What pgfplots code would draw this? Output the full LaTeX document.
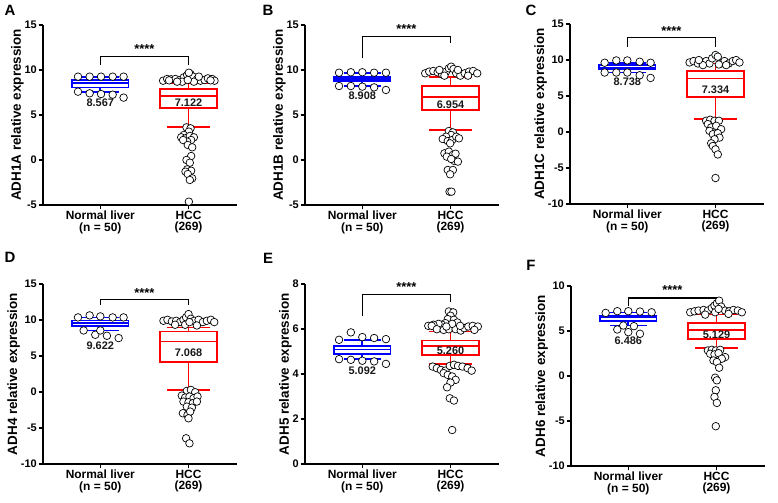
\documentclass[border=0pt]{standalone}
\usepackage{fontspec}
\setmainfont{Liberation Sans}
\usepackage{pgfplots}
\pgfplotsset{compat=1.18}

\newcommand{\fs}[1]{\fontsize{#1}{#1}\selectfont}

\pgfplotsset{
  panel/.style={
    scale only axis, width=194bp, height=180bp,
    xmin=0.35, xmax=2.55, anchor=south west, clip=false,
    axis lines=left, axis line style={-, line width=1.5pt},
    tick align=outside, major tick length=4.5pt,
    tick style={line width=1.3pt, black},
    xtick={1,2},
    xticklabels={{Normal liver\\(n = 50)},{HCC\\(269)}},
    xticklabel style={align=center, font=\fs{12}\bfseries, inner sep=1pt},
    yticklabel style={font=\fs{11}\bfseries, inner sep=1.5pt},
    ylabel style={font=\fs{13.5}\bfseries, yshift=-4pt},
  },
  bl/.style={line width=1.7pt, mark=none, line cap=rect, line join=miter},
  pts/.style={only marks, mark=*, mark size=3.8pt,
    mark options={fill=white, draw=black, line width=0.7pt}},
  brk/.style={black, line width=1.1pt, mark=none},
}
% box at x=1 (blue): lower whisker, lower quartile, median, upper quartile, upper whisker
\newcommand{\normbox}[5]{%
  \addplot[blue, bl] coordinates {(0.68,#2)(1.32,#2)(1.32,#4)(0.68,#4)(0.68,#2)};
  \addplot[blue, bl] coordinates {(0.68,#3)(1.32,#3)};
  \addplot[blue, bl] coordinates {(1,#4)(1,#5)};
  \addplot[blue, bl] coordinates {(1,#2)(1,#1)};
  \addplot[blue, bl] coordinates {(0.80,#5)(1.20,#5)};
  \addplot[blue, bl] coordinates {(0.80,#1)(1.20,#1)};
}
% box at x=2 (red)
\newcommand{\hccbox}[5]{%
  \addplot[red, bl] coordinates {(1.68,#2)(2.32,#2)(2.32,#4)(1.68,#4)(1.68,#2)};
  \addplot[red, bl] coordinates {(1.68,#3)(2.32,#3)};
  \addplot[red, bl] coordinates {(2,#4)(2,#5)};
  \addplot[red, bl] coordinates {(2,#2)(2,#1)};
  \addplot[red, bl] coordinates {(1.77,#5)(2.23,#5)};
  \addplot[red, bl] coordinates {(1.77,#1)(2.23,#1)};
}
\newcommand{\val}{\fs{11}\bfseries}
\newcommand{\stars}{\fs{13}\bfseries}

\begin{document}
\begin{tikzpicture}
\useasboundingbox (0,0) rectangle (778bp,503bp);

% ---------- A ----------
\begin{axis}[panel, at={(43bp,298bp)}, ymin=-5, ymax=15,
  ytick={-5,0,5,10,15}, yticklabels={-5,0,5,10,15},
  ylabel={ADH1A relative expression}]
\normbox{7.56}{8.07}{8.567}{8.92}{9.22}
\hccbox{3.70}{5.78}{7.122}{7.90}{8.56}
\addplot[pts] coordinates {(0.747,9.26)(0.879,9.26)(1.008,9.26)(1.14,9.26)(1.264,9.26)
  (0.747,7.59)(0.879,7.41)(1.008,7.33)(1.14,7.26)(1.264,6.93)};
\addplot[pts] coordinates {(1.712,8.81)(1.758,9.00)(1.803,8.96)(1.852,9.00)(1.902,8.89)
  (1.947,9.19)(1.985,9.44)(2.023,9.55)(2.053,9.26)(2.098,9.00)(2.136,8.81)(2.182,8.89)
  (2.22,9.07)(2.269,9.00)(2.295,8.81)(1.928,8.70)(2.061,8.70)(1.992,8.89)(2.117,9.26)
  (1.871,8.70)(2.004,9.70)(1.78,8.85)(2.25,8.85)
  (1.977,3.63)(2.023,3.52)(2.004,3.15)(1.947,2.78)(1.917,2.52)(1.966,2.41)(2.015,2.67)
  (2.061,2.52)(2.03,2.22)(1.985,2.04)(1.939,2.22)(1.992,1.67)(2.042,1.41)(2.03,0.44)
  (1.977,0.0)(2.015,-0.30)(1.985,-1.04)(2.03,-1.19)(1.966,-1.30)(1.992,-1.56)
  (2.042,-2.04)(2.015,-2.22)(2.004,-4.63)};
\addplot[brk] coordinates {(1,10.56)(1,11.5)(2,11.5)(2,10.56)};
\node[font=\stars] at (axis cs:1.5,12.3) {****};
\node[font=\val, text=black!90] at (axis cs:1,6.33) {8.567};
\node[font=\val, text=black!90] at (axis cs:2,6.40) {7.122};
\end{axis}

% ---------- B ----------
\begin{axis}[panel, at={(305bp,298bp)}, ymin=-5, ymax=15,
  ytick={-5,0,5,10,15}, yticklabels={-5,0,5,10,15},
  ylabel={ADH1B relative expression}]
\normbox{8.22}{8.78}{8.98}{9.26}{9.63}
\hccbox{3.33}{5.56}{7.0}{8.26}{9.26}
\addplot[pts] coordinates {(0.736,9.70)(0.870,9.75)(1.0,9.75)(1.134,9.70)(1.268,9.70)
  (0.736,8.22)(0.870,8.22)(1.0,8.15)(1.134,8.07)(1.268,7.78)};
\addplot[pts] coordinates {(1.713,9.63)(1.759,9.82)(1.805,9.89)(1.854,9.74)(1.904,9.52)
  (1.95,9.82)(1.981,10.19)(2.008,10.37)(2.034,10.11)(2.065,9.63)(2.111,9.37)(2.161,9.63)
  (2.211,9.82)(2.257,9.89)(2.303,9.63)(1.931,9.37)(2.084,10.0)(2.199,9.37)(1.874,10.0)
  (1.981,3.22)(2.027,3.07)(2.008,2.78)(1.95,2.59)(1.912,2.33)(1.969,2.11)(2.019,2.22)
  (2.065,2.59)(2.096,2.41)(1.996,1.85)(1.931,0.74)(1.981,0.93)(2.027,0.56)(2.057,0.70)
  (1.958,0.37)(2.046,-0.11)(2.084,-0.18)(2.008,0.11)(1.969,-1.11)(2.027,-1.11)
  (1.996,-1.59)(1.989,-3.52)(2.011,-3.52)};
\addplot[brk] coordinates {(1,11.3)(1,13.7)(2,13.7)(2,13.0)};
\node[font=\stars] at (axis cs:1.5,14.5) {****};
\node[font=\val, text=black!90] at (axis cs:1,7.15) {8.908};
\node[font=\val, text=black!90] at (axis cs:2,6.19) {6.954};
\end{axis}

% ---------- C ----------
\begin{axis}[panel, at={(570bp,299bp)}, ymin=-10, ymax=15,
  ytick={-10,-5,0,5,10,15}, yticklabels={-10,-5,0,5,10,15},
  ylabel={ADH1C relative expression}]
\normbox{8.26}{8.68}{8.90}{9.29}{9.62}
\hccbox{1.80}{4.84}{7.42}{8.45}{9.52}
\addplot[pts] coordinates {(0.743,9.62)(0.875,9.94)(1.0,9.94)(1.14,9.76)(1.264,9.62)
  (0.743,8.26)(0.875,8.26)(1.0,8.26)(1.14,7.88)(1.264,7.51)};
\addplot[pts] coordinates {(1.706,9.66)(1.751,9.85)(1.80,9.52)(1.849,9.66)(1.894,9.85)
  (1.932,9.52)(1.962,10.23)(2.0,10.69)(2.026,10.46)(2.064,9.52)(2.102,9.85)(2.151,9.52)
  (2.196,9.85)(2.234,9.99)(2.272,9.66)(1.857,9.29)(2.121,9.29)(2.038,9.38)(1.811,9.99)
  (1.894,1.56)(1.94,1.70)(1.989,1.56)(2.038,1.56)(1.913,1.10)(1.951,0.63)(2.008,0.86)
  (2.064,0.39)(1.932,0.16)(1.97,-0.31)(2.026,-0.17)(2.045,-0.78)(1.989,-1.01)
  (1.951,-1.57)(1.97,-1.95)(2.0,-2.41)(2.026,-3.12)(2.0,-6.39)};
\addplot[brk] coordinates {(1,11.86)(1,13.13)(2,13.13)(2,11.86)};
\node[font=\stars] at (axis cs:1.5,14.0) {****};
\node[font=\val, text=black!90] at (axis cs:1,7.04) {8.738};
\node[font=\val, text=black!90] at (axis cs:2,5.92) {7.334};
\end{axis}

% ---------- D ----------
\begin{axis}[panel, at={(43bp,39bp)}, ymin=-10, ymax=15,
  ytick={-10,-5,0,5,10,15}, yticklabels={-10,-5,0,5,10,15},
  ylabel={ADH4 relative expression}]
\normbox{8.55}{9.20}{9.622}{9.94}{10.36}
\hccbox{0.29}{4.14}{7.02}{8.41}{8.97}
\addplot[pts] coordinates {(0.747,10.36)(0.879,10.64)(1.0,10.50)(1.14,10.36)(1.264,10.36)
  (0.811,8.55)(0.943,7.95)(1.0,8.55)(1.075,7.81)(1.208,7.49)};
\addplot[pts] coordinates {(1.716,9.89)(1.761,10.03)(1.811,9.80)(1.86,9.89)(1.905,9.71)
  (1.943,10.03)(1.973,10.36)(2.0,10.82)(2.027,10.17)(2.064,9.89)(2.114,10.03)(2.163,9.71)
  (2.208,9.89)(2.254,10.03)(2.292,9.71)(1.848,9.34)(1.962,9.34)(2.095,9.24)(2.011,9.71)
  (1.981,0.15)(2.027,0.29)(2.076,-0.03)(1.924,-0.50)(1.962,-0.77)(2.011,-0.63)
  (2.057,-0.87)(2.102,-0.63)(1.943,-1.33)(2.0,-1.42)(2.049,-1.56)(2.095,-1.33)
  (1.981,-2.03)(2.038,-2.17)(1.936,-2.95)(1.989,-3.19)(2.019,-2.72)(2.0,-3.65)
  (1.973,-6.43)(2.011,-7.13)};
\addplot[brk] coordinates {(1,12.12)(1,12.82)(2,12.82)(2,12.12)};
\node[font=\stars] at (axis cs:1.5,13.8) {****};
\node[font=\val, text=black!90] at (axis cs:1,6.47) {9.622};
\node[font=\val, text=black!90] at (axis cs:2,5.39) {7.068};
\end{axis}

% ---------- E ----------
\begin{axis}[panel, at={(305bp,39bp)}, ymin=0, ymax=8,
  ytick={0,2,4,6,8}, yticklabels={0,2,4,6,8},
  ylabel={ADH5 relative expression}]
\normbox{4.68}{4.88}{5.092}{5.23}{5.52}
\hccbox{4.45}{4.85}{5.26}{5.49}{5.89}
\addplot[pts] coordinates {(0.736,5.52)(0.870,5.85)(1.0,5.64)(1.134,5.60)(1.268,5.55)
  (0.736,4.66)(0.870,4.63)(1.0,4.59)(1.134,4.56)(1.268,4.45)};
\addplot[pts] coordinates {(1.981,6.78)(2.031,6.74)(2.0,6.59)(1.969,6.44)(2.039,6.41)
  (2.078,6.29)(1.942,6.26)(1.903,6.19)(1.864,6.23)(1.806,6.19)(1.748,6.14)(1.787,6.14)
  (1.845,5.99)(1.922,5.96)(1.981,5.99)(2.058,5.99)(2.116,5.93)(2.155,6.04)(2.202,6.11)
  (2.252,6.14)(2.31,6.11)(2.271,5.96)(2.019,6.23)(2.109,6.14)(1.953,6.11)
  (1.798,4.33)(1.845,4.26)(1.891,4.18)(1.942,4.15)(1.992,4.36)(2.039,4.41)(2.085,4.36)
  (2.136,4.33)(2.194,4.26)(2.24,4.15)(1.922,4.04)(1.969,3.96)(2.019,3.89)(2.058,3.74)
  (2.0,3.62)(1.961,3.41)(1.992,2.92)(2.039,2.82)(2.019,1.51)};
\addplot[brk] coordinates {(1,6.56)(1,7.53)(2,7.53)(2,7.18)};
\node[font=\stars] at (axis cs:1.5,7.85) {****};
\node[font=\val, text=black!90] at (axis cs:1,4.16) {5.092};
\node[font=\val, text=black!90] at (axis cs:2,5.05) {5.260};
\end{axis}

% ---------- F ----------
\begin{axis}[panel, at={(571bp,37bp)}, ymin=-10, ymax=10,
  ytick={-10,-5,0,5,10}, yticklabels={-10,-5,0,5,10},
  ylabel={ADH6 relative expression}]
\normbox{5.61}{6.09}{6.486}{6.64}{7.05}
\hccbox{3.13}{4.13}{5.129}{5.86}{6.82}
\addplot[pts] coordinates {(0.743,7.01)(0.875,7.20)(1.0,7.20)(1.132,7.16)(1.264,7.08)
  (0.875,5.17)(0.943,5.61)(1.064,5.54)(1.0,4.87)(1.132,4.69)};
\addplot[pts] coordinates {(1.702,7.08)(1.751,7.19)(1.796,7.27)(1.853,7.34)(1.902,7.27)
  (1.947,7.56)(1.977,7.82)(2.004,8.08)(2.03,8.37)(2.053,7.71)(2.098,7.27)(2.143,7.19)
  (2.192,7.34)(2.242,7.27)(2.287,7.08)(1.872,6.82)(1.985,7.08)(2.136,6.90)(2.023,7.45)
  (1.902,2.84)(1.947,2.91)(1.992,2.84)(2.042,2.91)(1.928,2.47)(1.977,2.40)(2.023,2.54)
  (2.098,2.10)(2.06,1.92)(1.966,1.73)(2.004,1.55)(2.03,0.92)(1.985,-0.19)(2.004,-0.48)
  (1.992,-1.59)(1.977,-2.33)(2.004,-2.99)(1.992,-5.58)};
\addplot[brk] coordinates {(1,7.82)(1,8.67)(2,8.67)(2,7.82)};
\node[font=\stars] at (axis cs:1.5,9.5) {****};
\node[font=\val, text=black!90] at (axis cs:1,3.87) {6.486};
\node[font=\val, text=black!90] at (axis cs:2,4.61) {5.129};
\end{axis}

% panel letters
\node[font=\fs{15}\bfseries] at (10bp,493bp) {A};
\node[font=\fs{15}\bfseries] at (268bp,493bp) {B};
\node[font=\fs{15}\bfseries] at (531bp,493bp) {C};
\node[font=\fs{15}\bfseries] at (10bp,246bp) {D};
\node[font=\fs{15}\bfseries] at (268bp,245bp) {E};
\node[font=\fs{15}\bfseries] at (531bp,238bp) {F};
\end{tikzpicture}
\end{document}
